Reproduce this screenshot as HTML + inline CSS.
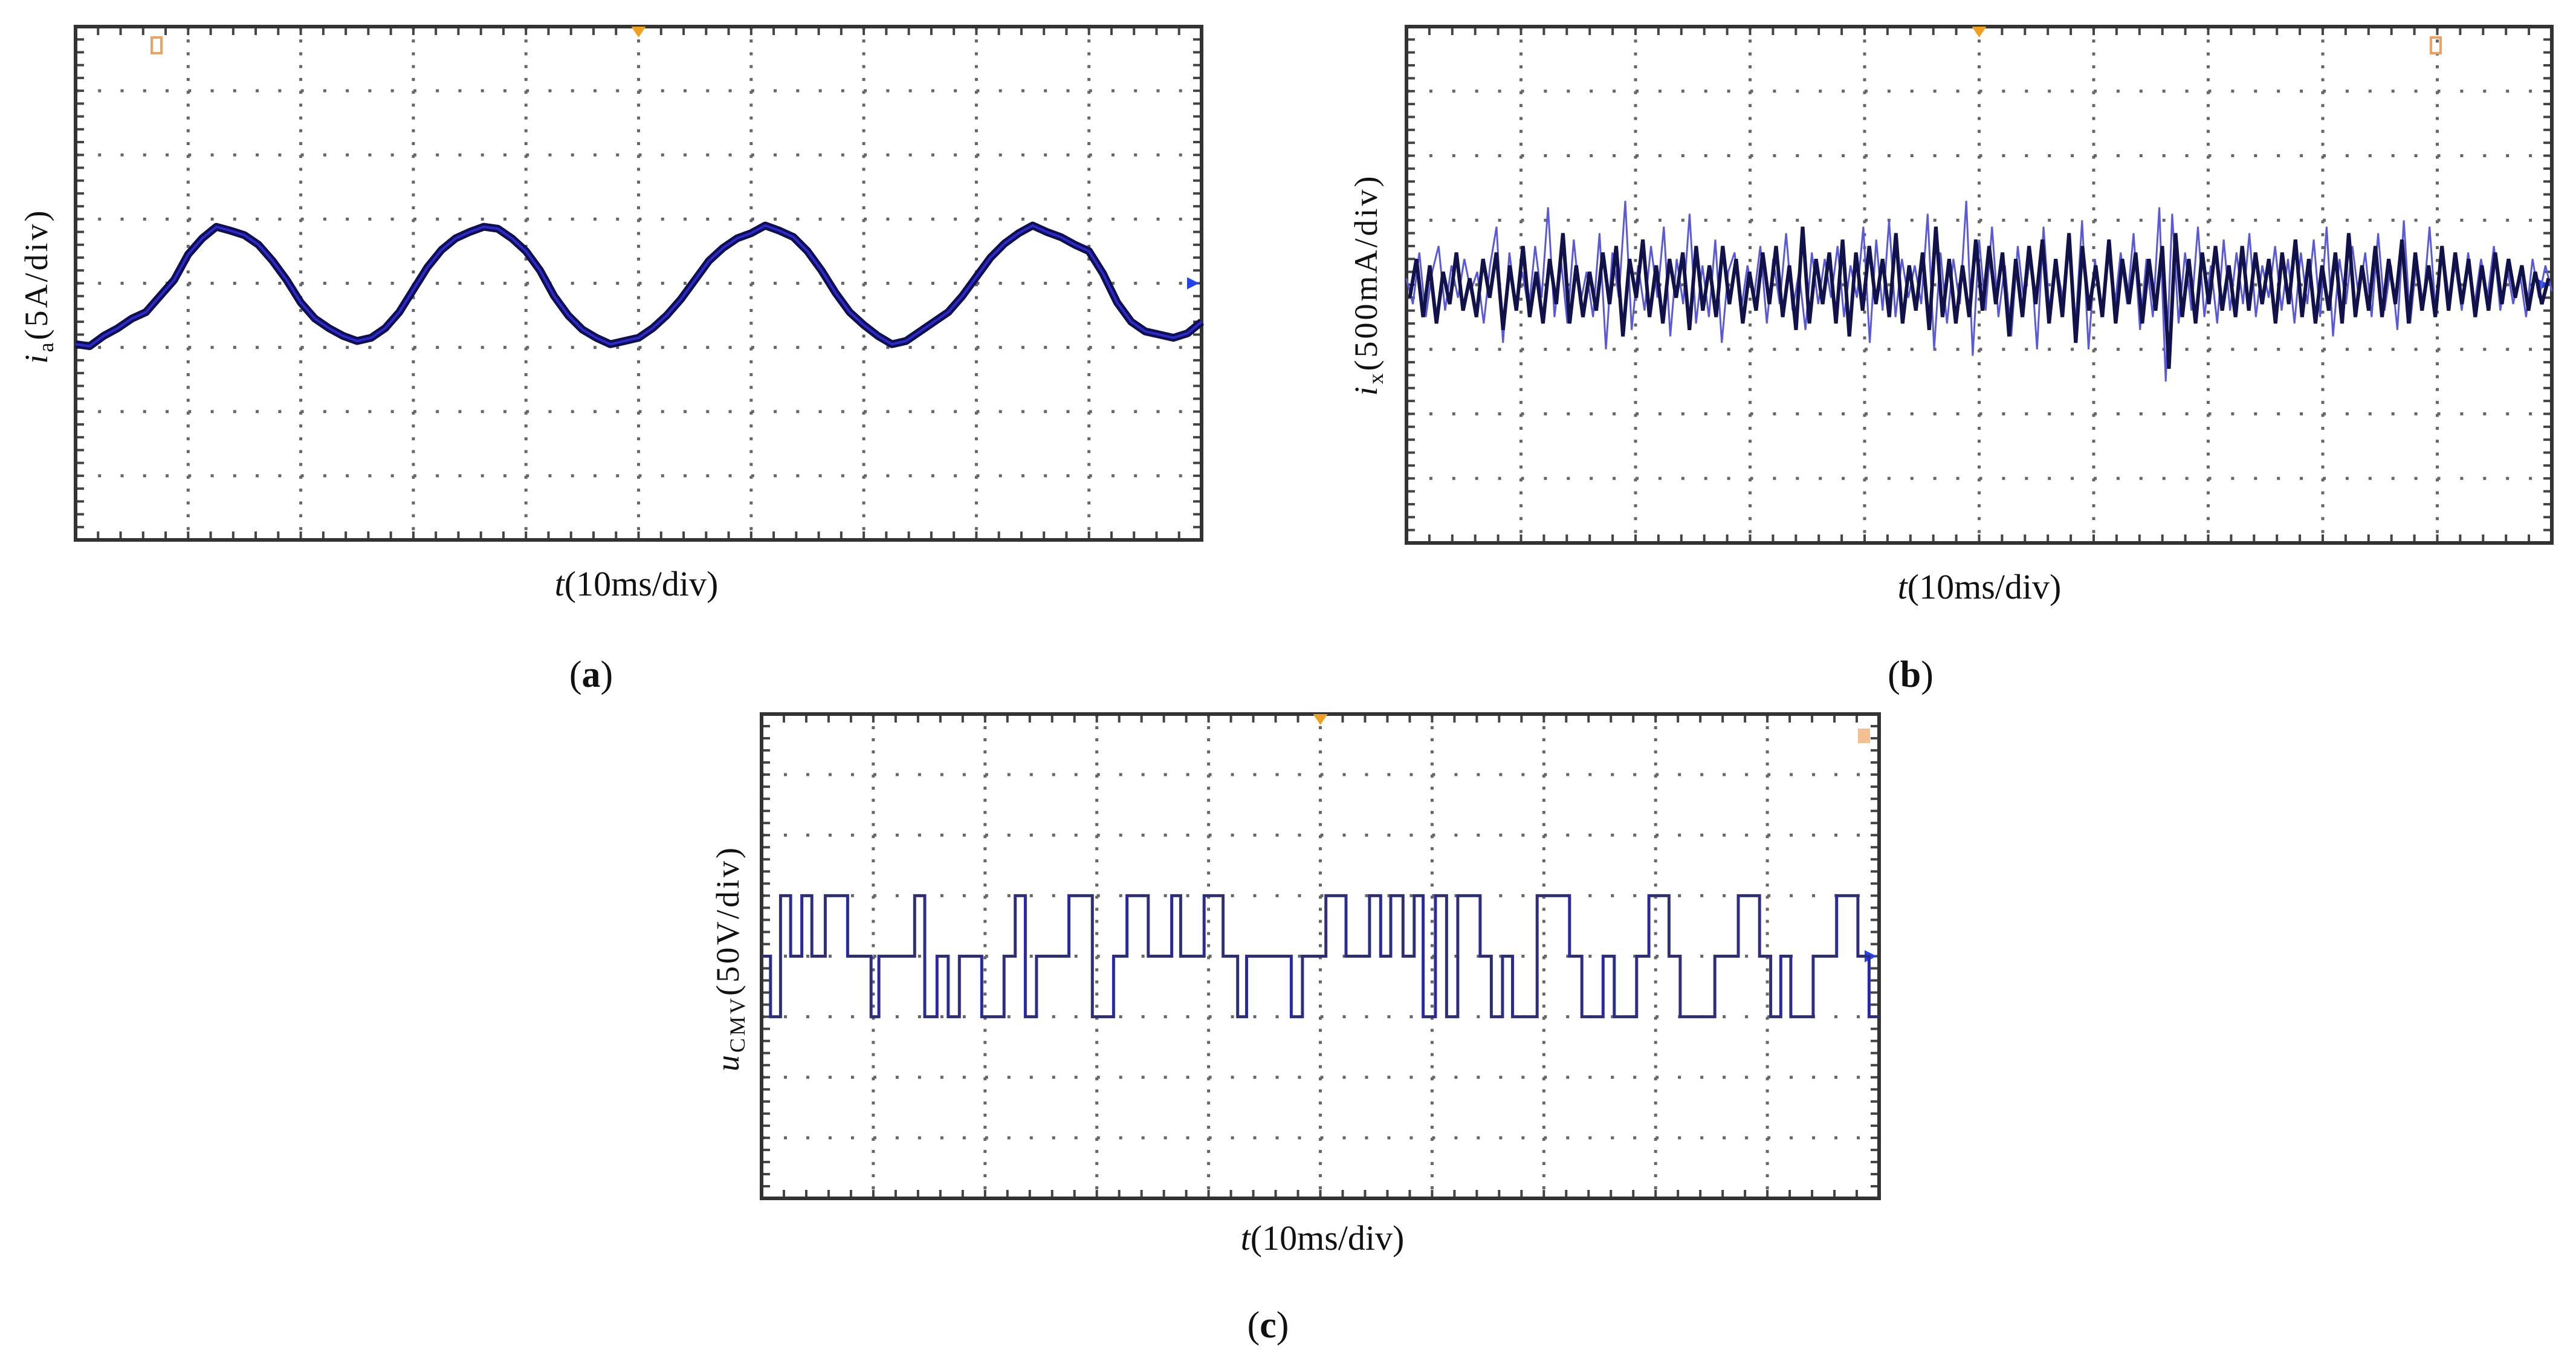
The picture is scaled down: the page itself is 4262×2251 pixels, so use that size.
<!DOCTYPE html>
<html><head><meta charset="utf-8"><style>
html,body{margin:0;padding:0;background:#fff;}
svg{display:block;}
text{font-family:"Liberation Serif",serif;fill:#111;}
</style></head><body>
<svg id="fig" width="4262" height="2251" viewBox="0 0 4262 2251" xmlns="http://www.w3.org/2000/svg">
<g id="pa"></g>
<g id="pb"></g>
<g id="pc"></g>
<text x="1053" y="985" font-size="58" text-anchor="middle"><tspan font-style="italic">t</tspan>(10ms/div)</text>
<text x="978" y="1136" font-size="62" text-anchor="middle">(<tspan font-weight="bold">a</tspan>)</text>
<text transform="translate(78,473) rotate(-90)" font-size="54" text-anchor="middle" letter-spacing="4"><tspan font-style="italic">i</tspan><tspan font-size="36" dy="10">a</tspan><tspan dy="-10">(5A/div)</tspan></text>
<text x="3275" y="990" font-size="58" text-anchor="middle"><tspan font-style="italic">t</tspan>(10ms/div)</text>
<text x="3161" y="1136" font-size="62" text-anchor="middle">(<tspan font-weight="bold">b</tspan>)</text>
<text transform="translate(2278,471) rotate(-90)" font-size="54" text-anchor="middle" letter-spacing="4"><tspan font-style="italic">i</tspan><tspan font-size="36" dy="10">x</tspan><tspan dy="-10">(500mA/div)</tspan></text>
<text x="2188" y="2067" font-size="58" text-anchor="middle"><tspan font-style="italic">t</tspan>(10ms/div)</text>
<text x="2098" y="2212" font-size="62" text-anchor="middle">(<tspan font-weight="bold">c</tspan>)</text>
<text transform="translate(1222,1585) rotate(-90)" font-size="54" text-anchor="middle" letter-spacing="4"><tspan font-style="italic">u</tspan><tspan font-size="36" dy="10">CMV</tspan><tspan dy="-10">(50V/div)</tspan></text>
</svg>
<script>
// Panel (a): phase current in divisions, sampled every 0.125 div (81 points)
const aValues = [-0.95,-0.98,-0.82,-0.7,-0.55,-0.45,-0.2,0.05,0.45,0.7,0.88,
0.82,0.75,0.6,0.35,0.05,-0.3,-0.55,-0.7,-0.82,-0.9,
-0.85,-0.7,-0.45,-0.1,0.25,0.52,0.7,0.8,0.88,
0.85,0.7,0.5,0.2,-0.2,-0.5,-0.72,-0.85,-0.95,-0.9,
-0.85,-0.7,-0.5,-0.25,0.05,0.35,0.55,0.7,0.78,0.9,
0.82,0.72,0.5,0.2,-0.15,-0.45,-0.65,-0.82,-0.95,-0.9,
-0.75,-0.6,-0.45,-0.2,0.1,0.4,0.62,0.78,0.9,
0.8,0.72,0.6,0.5,0.15,-0.3,-0.6,-0.75,-0.8,-0.85,-0.78,-0.6];
// Panel (b): noise current in divisions (light and dark traces)
const bValues = [0.1,-0.3,0.5,-0.5,0.2,0.6,-0.4,0.3,-0.2,0.4,-0.1,0.2,-0.6,0.3,0.9,-0.9,0.5,-0.3,0.2,-0.4,0.6,-0.2,1.2,-0.5,0.4,-0.6,0.7,-0.3,0.2,-0.5,0.8,-1.0,0.5,-0.2,1.3,-0.7,0.3,-0.4,0.6,-0.2,0.9,-0.8,0.4,-0.3,1.1,-0.6,0.3,-0.5,0.7,-0.9,0.2,0.5,-0.4,0.3,-0.2,0.6,-0.6,0.4,-0.3,0.8,-0.4,0.2,-0.7,0.5,-0.3,0.4,-0.2,0.6,-0.5,0.3,-0.2,0.9,-0.9,0.7,-0.4,1.0,-0.5,0.4,-0.2,0.3,-0.3,1.1,-1.0,0.5,-0.6,0.4,-0.3,1.3,-1.1,0.7,-0.4,0.9,-0.5,0.3,-0.8,0.6,-0.3,0.5,-1.0,0.9,-0.5,0.3,-0.2,0.7,-0.6,1.0,-1.0,0.4,-0.5,0.6,-0.4,0.5,-0.3,0.8,-0.7,0.4,-0.5,1.2,-1.5,1.1,-0.6,0.5,-0.4,0.9,-0.5,0.3,-0.6,0.7,-0.4,0.5,-0.3,0.8,-0.5,0.3,-0.2,0.6,-0.4,0.4,-0.6,0.5,-0.3,0.7,-0.5,0.9,-0.8,0.4,-0.3,0.6,-0.2,0.5,-0.5,0.8,-0.4,0.3,-0.7,1.0,-0.6,0.4,-0.3,0.9,-0.5,0.6,-0.2,0.3,-0.4,0.5,-0.3,0.4,-0.2,0.6,-0.4,0.3,-0.3,0.2,-0.5,0.4,-0.2,0.3,-0.1];
const bValuesDark = [-0.2,0.4,-0.5,0.3,-0.6,0.2,-0.3,0.5,-0.4,0.1,-0.5,0.4,-0.2,0.5,-0.7,0.3,-0.4,0.6,-0.5,0.2,-0.6,0.4,-0.3,0.8,-0.6,0.3,-0.5,0.2,-0.4,0.5,-0.3,0.6,-0.8,0.4,-0.2,0.7,-0.5,0.3,-0.6,0.4,-0.2,0.5,-0.7,0.6,-0.4,0.3,-0.5,0.6,-0.3,0.4,-0.6,0.2,-0.4,0.5,-0.3,0.6,-0.5,0.3,-0.7,0.9,-0.6,0.4,-0.3,0.5,-0.6,0.7,-0.8,0.5,-0.4,0.6,-0.3,0.4,-0.5,0.8,-0.6,0.3,-0.4,0.5,-0.7,0.9,-0.5,0.4,-0.6,0.3,-0.5,0.7,-0.4,0.6,-0.3,0.5,-0.8,0.4,-0.5,0.6,-0.3,0.7,-0.6,0.4,-0.5,0.8,-0.9,0.6,-0.4,0.3,-0.5,0.7,-0.6,0.4,-0.3,0.5,-0.6,0.4,-0.4,0.6,-1.3,0.8,-0.5,0.4,-0.6,0.5,-0.3,0.6,-0.4,0.3,-0.5,0.6,-0.4,0.5,-0.3,0.4,-0.6,0.5,-0.3,0.7,-0.5,0.4,-0.6,0.3,-0.4,0.5,-0.6,0.8,-0.5,0.3,-0.4,0.6,-0.5,0.4,-0.3,0.7,-0.6,0.5,-0.4,0.3,-0.5,0.6,-0.4,0.5,-0.3,0.4,-0.5,0.3,-0.4,0.5,-0.3,0.4,-0.2,0.3,-0.4,0.2,-0.3,0.1];
// Panel (c): common-mode voltage — step transition times (div) and levels (div)
const cTimes = [0.08,0.17,0.26,0.36,0.45,0.57,0.77,0.98,1.05,1.37,1.46,1.57,1.67,1.77,1.97,2.17,2.27,2.36,2.46,2.75,2.96,3.15,3.27,3.46,3.67,3.75,3.96,4.13,4.26,4.34,4.74,4.84,5.05,5.23,5.44,5.54,5.63,5.74,5.84,5.92,6.03,6.13,6.23,6.43,6.53,6.63,6.72,6.94,7.23,7.34,7.53,7.63,7.83,7.94,8.12,8.22,8.53,8.74,8.93,9.03,9.12,9.21,9.41,9.62,9.81,9.91];
const cLevels = [0,-1,1,0,1,0,1,0,-1,0,1,-1,0,-1,0,-1,0,1,-1,0,1,-1,0,1,0,1,0,1,0,-1,0,-1,0,1,0,1,0,1,0,1,-1,1,-1,1,0,-1,0,-1,1,0,-1,0,-1,0,1,0,-1,0,1,0,-1,0,-1,0,1,0,-1];

const NS='http://www.w3.org/2000/svg';
function mk(parent,tag,attrs){const e=document.createElementNS(NS,tag);for(const k in attrs)e.setAttribute(k,attrs[k]);parent.appendChild(e);return e;}

function frame(g,x0,y0,x1,y1,trigX){
  const W=x1-x0,H=y1-y0,dx=W/10,dy=H/8;
  const grid=mk(g,'g',{});
  
  
  for(let i=1;i<10;i++){const x=x0+i*dx;mk(grid,'line',{x1:x,y1:y0,x2:x,y2:y1,stroke:'#666','stroke-width':5,'stroke-dasharray':'5 '+(dy/5-5)});}
  for(let j=1;j<8;j++){const y=y0+j*dy;mk(grid,'line',{x1:x0,y1:y,x2:x1,y2:y,stroke:'#666','stroke-width':5,'stroke-dasharray':'5 '+(dx/5-5)});}
  for(let i=0;i<=50;i++){const x=x0+i*dx/5;mk(grid,'line',{x1:x,y1:y0,x2:x,y2:y0+14,stroke:'#444','stroke-width':4});mk(grid,'line',{x1:x,y1:y1,x2:x,y2:y1-14,stroke:'#444','stroke-width':4});}
  for(let j=0;j<=40;j++){const y=y0+j*dy/5;mk(grid,'line',{x1:x0,y1:y,x2:x0+14,y2:y,stroke:'#444','stroke-width':4});mk(grid,'line',{x1:x1,y1:y,x2:x1-14,y2:y,stroke:'#444','stroke-width':4});}
  const b=mk(g,'rect',{x:x0,y:y0,width:W,height:H,fill:'none',stroke:'#333','stroke-width':6});
  
  
  const tr=mk(g,'polygon',{points:`${trigX-12},${y0} ${trigX+12},${y0} ${trigX},${y0+18}`,fill:'#f0a020'});
  
  
  const ar=mk(g,'polygon',{points:`${x1-4},${y0+H/2} ${x1-24},${y0+H/2-10} ${x1-24},${y0+H/2+10}`,fill:'#2244ee'});
  
  
}

// Panel a
(function(){
  const g=document.getElementById('pa');const x0=125,y0=44,x1=1988,y1=893;
  frame(g,x0,y0,x1,y1,(x0+x1)/2);
  const m=mk(g,'rect',{x:251,y:62,width:16,height:26,fill:'none',stroke:'#f0a060','stroke-width':4});
  
  
  const xs=t=>x0+t*(x1-x0)/10, ys=v=>(y0+y1)/2-v*(y1-y0)/8;
  const pts=aValues.map((v,i)=>xs(i*10/(aValues.length-1)).toFixed(1)+','+ys(v).toFixed(1)).join(' ');
  const l=mk(g,'polyline',{points:pts,fill:'none',stroke:'#101050','stroke-width':13,'stroke-linejoin':'round'});
  
  
  const l2=mk(g,'polyline',{points:pts,fill:'none',stroke:'#2a2ad0','stroke-width':4});
  
  
})();

// Panel b
(function(){
  const g=document.getElementById('pb');const x0=2327,y0=44,x1=4222,y1=898;
  frame(g,x0,y0,x1,y1,x0+(x1-x0)*0.5);
  const m=mk(g,'rect',{x:4022,y:62,width:16,height:26,fill:'none',stroke:'#f0a060','stroke-width':4});
  
  
  const xs=t=>x0+t*(x1-x0)/10, ys=v=>(y0+y1)/2-v*(y1-y0)/8;
  const pts=bValues.map((v,i)=>xs(i*10/(bValues.length-1)).toFixed(1)+','+ys(v).toFixed(1)).join(' ');
  const l=mk(g,'polyline',{points:pts,fill:'none',stroke:'#5a5ad8','stroke-width':3});
  
  
  const pts2=bValuesDark.map((v,i)=>xs((i+0.5)*10/(bValuesDark.length)).toFixed(1)+','+ys(v).toFixed(1)).join(' ');
  const l2=mk(g,'polyline',{points:pts2,fill:'none',stroke:'#12124a','stroke-width':6});
  
  
})();

// Panel c
(function(){
  const g=document.getElementById('pc');const x0=1260,y0=1181,x1=3109,y1=1982;
  frame(g,x0,y0,x1,y1,x0+(x1-x0)*0.5);
  const m=mk(g,'rect',{x:3074,y:1205,width:20,height:24,fill:'#f5c090'});
  
  
  const xs=t=>x0+t*(x1-x0)/10, ys=v=>(y0+y1)/2-v*(y1-y0)/8;
  let d='M'+xs(0)+','+ys(cLevels[0]);
  for(let i=0;i<cTimes.length;i++){d+=' L'+xs(cTimes[i]).toFixed(1)+','+ys(cLevels[i]).toFixed(1)+' L'+xs(cTimes[i]).toFixed(1)+','+ys(cLevels[i+1]).toFixed(1);}
  d+=' L'+xs(10)+','+ys(cLevels[cLevels.length-1]);
  const l=mk(g,'path',{d:d,fill:'none',stroke:'#2a2ad0','stroke-width':5});
  
  
  const l2=mk(g,'path',{d:d,fill:'none',stroke:'#30305a','stroke-width':2.5});
  
  
})();
</script>
</body></html>
